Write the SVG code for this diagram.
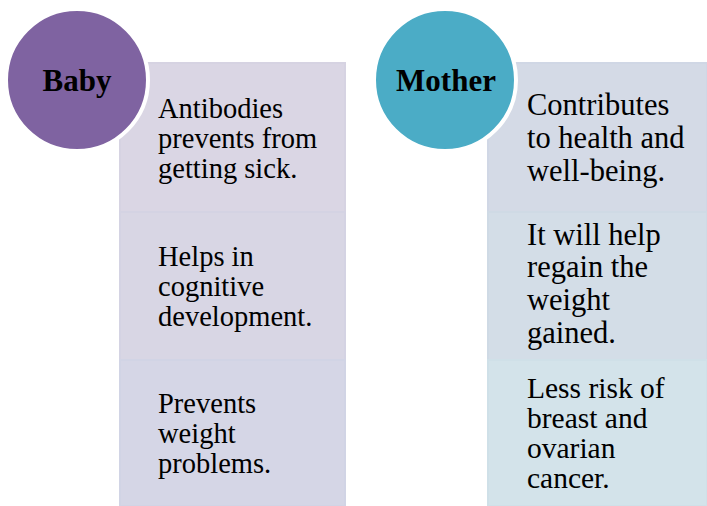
<svg xmlns="http://www.w3.org/2000/svg" width="707" height="506" viewBox="0 0 707 506">
<style>
.t{font-family:"Liberation Serif","Times New Roman",serif;fill:#000}
.b{font-size:28.5px}
.m{font-size:30.5px}
.s{font-size:29.5px}
.h{font-family:"Liberation Serif","Times New Roman",serif;font-weight:bold;font-size:31px;text-anchor:middle;fill:#000}
.box{stroke-width:2}
</style>
<rect width="707" height="506" fill="#fff"/>
<g id="baby-items">
<rect class="box" x="120" y="63" width="225" height="149" fill="#DAD6E4" stroke="#D6D3E2"/>
<rect class="box" x="120" y="212" width="225" height="148" fill="#D8D6E4" stroke="#D4D3E3"/>
<rect class="box" x="120" y="360" width="225" height="146" fill="#D5D6E6" stroke="#D1D4E5"/>
</g>
<g id="mother-items">
<rect class="box" x="488" y="63" width="219" height="149" fill="#D4DAE6" stroke="#D0D7E5"/>
<rect class="box" x="488" y="212" width="219" height="148" fill="#D3DDE7" stroke="#CFDAE5"/>
<rect class="box" x="488" y="360" width="219" height="146" fill="#D3E3EA" stroke="#CFE0E8"/>
</g>
<g id="baby">
<circle cx="77" cy="80" r="71" fill="#7F63A1" stroke="#fff" stroke-width="4"/>
<text class="h" x="77" y="91">Baby</text>
</g>
<g id="mother">
<circle cx="445" cy="80" r="71" fill="#4BACC6" stroke="#fff" stroke-width="4"/>
<text class="h" x="446" y="91">Mother</text>
</g>
<g id="baby-text" class="t b">
<text x="158" y="118">Antibodies</text>
<text x="158" y="148">prevents from</text>
<text x="158" y="178">getting sick.</text>
<text x="158" y="266">Helps in</text>
<text x="158" y="296">cognitive</text>
<text x="158" y="326">development.</text>
<text x="158" y="413">Prevents</text>
<text x="158" y="443">weight</text>
<text x="158" y="473">problems.</text>
</g>
<g id="mother-text" class="t">
<text class="m" x="527" y="115">Contributes</text>
<text class="m" x="527" y="148">to health and</text>
<text class="m" x="527" y="181">well-being.</text>
<text class="m" x="527" y="245">It will help</text>
<text class="m" x="527" y="277">regain the</text>
<text class="m" x="527" y="310">weight</text>
<text class="m" x="527" y="343">gained.</text>
<text class="s" x="527" y="398">Less risk of</text>
<text class="s" x="527" y="428">breast and</text>
<text class="s" x="527" y="458">ovarian</text>
<text class="s" x="527" y="488">cancer.</text>
</g>
<g id="connectors"></g>
</svg>
